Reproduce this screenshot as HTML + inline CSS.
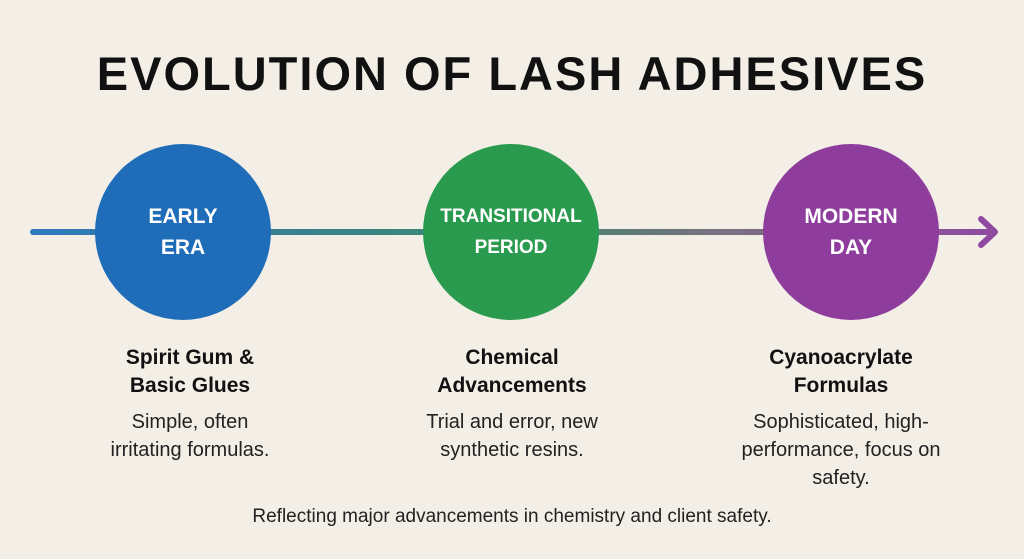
<!DOCTYPE html>
<html><head><style>
body{margin:0;width:1024px;height:559px;background:#f4efe6;font-family:"Liberation Sans",sans-serif;position:relative;overflow:hidden;color:#111}
.t{position:absolute;left:0;width:1024px;text-align:center;top:46px;font-size:47px;font-weight:bold;letter-spacing:2px}
.c{position:absolute;width:176px;height:176px;border-radius:50%;top:144px;color:#fff;font-weight:bold;font-size:21px;display:flex;align-items:center;justify-content:center;text-align:center;line-height:31px}
.col{position:absolute;top:344px;width:260px;text-align:center}
.h{font-weight:bold;font-size:21px;line-height:28px}
.b{font-size:20px;line-height:28px;margin-top:8px;color:#222}
.f{position:absolute;top:506px;left:0;width:1024px;text-align:center;font-size:19px;color:#222}
</style></head><body>
<div class="t">EVOLUTION OF LASH ADHESIVES</div>
<svg width="1024" height="559" style="position:absolute;left:0;top:0">
<defs><linearGradient id="g" gradientUnits="userSpaceOnUse" x1="32" y1="0" x2="995" y2="0"><stop offset="0" stop-color="#2f78bd"/><stop offset="0.5" stop-color="#3f8a6a"/><stop offset="0.72" stop-color="#7a6f80"/><stop offset="1" stop-color="#8f4aa0"/></linearGradient></defs>
<rect x="30" y="229" width="964" height="6" rx="3" fill="url(#g)"/>
<polyline points="981,219 995,232 981,245" fill="none" stroke="#8f4aa0" stroke-width="6" stroke-linecap="round" stroke-linejoin="round"/>
</svg>
<div class="c" style="left:95px;background:#1f6db9">EARLY<br>ERA</div>
<div class="c" style="left:423px;background:#2a9a4e;font-size:19px">TRANSITIONAL<br>PERIOD</div>
<div class="c" style="left:763px;background:#8e3d9c">MODERN<br>DAY</div>
<div class="col" style="left:60px"><div class="h">Spirit Gum &amp;<br>Basic Glues</div><div class="b">Simple, often<br>irritating formulas.</div></div>
<div class="col" style="left:382px"><div class="h">Chemical<br>Advancements</div><div class="b">Trial and error, new<br>synthetic resins.</div></div>
<div class="col" style="left:711px"><div class="h">Cyanoacrylate<br>Formulas</div><div class="b">Sophisticated, high-<br>performance, focus on<br>safety.</div></div>
<div class="f">Reflecting major advancements in chemistry and client safety.</div>
</body></html>
